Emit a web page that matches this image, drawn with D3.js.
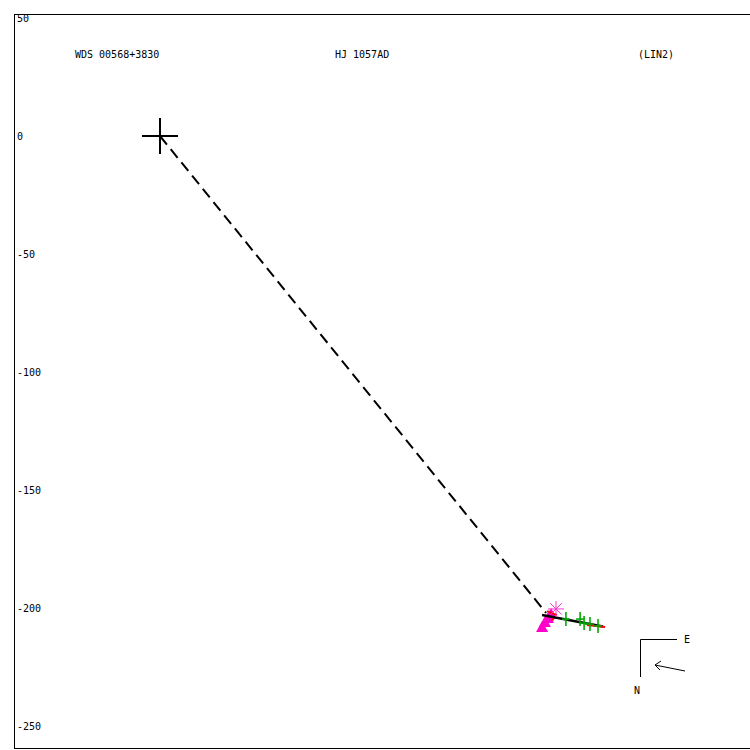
<!DOCTYPE html>
<html><head><meta charset="utf-8">
<script src="https://cdn.jsdelivr.net/npm/d3@7"></script>
<style>body{margin:0;background:#fff}svg{display:block}</style>
</head><body>
<script>
// ---- data ----
const yTicks = [50, 0, -50, -100, -150, -200, -250];
const titles = ["WDS 00568+3830", "HJ 1057AD", "(LIN2)"];
const primary = [0, 0];
const dashedLine = [[0, 0], [163.6, -202.1]];
const fitLine = [[161.9, -203.0], [187.7, -207.8]];
const greenX = [172.0, 178.0, 179.7, 182.2, 185.6];
const greenY = [-204.7, -204.7, -206.4, -206.8, -207.6];
const redSegs = [
  [[164.0, -201.3], [168.2, -203.0]],
  [[180.9, -207.2], [188.6, -208.1]],
  [[166.0, -204.6], [166.8, -205.2]]
];
const asterisk = [167.8, -200.4];
const triX = [161.9, 163.1, 164.4, 165.7];
const triY = [-208.1, -205.9, -204.2, -202.5];

// ---- chart ----
const W = 750, H = 750;
const svg = d3.select("body").append("svg").attr("width", W).attr("height", H);
const x = d3.scaleLinear().domain([0, 250]).range([160, 750]);
const y = d3.scaleLinear().domain([50, -250]).range([18, 726]);
const font = "'DejaVu Sans Mono', monospace";

svg.append("rect").attr("x", 14.5).attr("y", 14.5).attr("width", 740).attr("height", 734)
  .attr("fill", "none").attr("stroke", "#000").attr("stroke-width", 1);

// y tick labels
svg.append("g").selectAll("text").data(yTicks).join("text")
  .attr("x", 17).attr("y", d => y(d)).attr("dy", "0.35em").attr("fill", "#000")
  .attr("font-family", font).attr("font-size", 10).text(d => d);

// titles
const titleX = [75, 335, 638];
svg.append("g").selectAll("text").data(titles).join("text")
  .attr("x", (d, i) => titleX[i]).attr("y", 58).attr("fill", "#000")
  .attr("font-family", font).attr("font-size", 10).text(d => d);

// dashed line
svg.append("line")
  .attr("x1", x(dashedLine[0][0])).attr("y1", y(dashedLine[0][1]))
  .attr("x2", x(dashedLine[1][0])).attr("y2", y(dashedLine[1][1]))
  .attr("stroke", "#000").attr("stroke-width", 2).attr("stroke-dasharray", "11,6");

// primary cross
const px = x(primary[0]), py = y(primary[1]);
svg.append("line").attr("x1", px - 18).attr("x2", px + 18).attr("y1", py).attr("y2", py)
  .attr("stroke", "#000").attr("stroke-width", 2);
svg.append("line").attr("x1", px).attr("x2", px).attr("y1", py - 18).attr("y2", py + 18)
  .attr("stroke", "#000").attr("stroke-width", 2);

// magenta triangles
svg.append("g").selectAll("path").data(triX).join("path")
  .attr("d", (d, i) => {
    const cx = x(d), cy = y(triY[i]);
    return `M${cx - 6},${cy + 5}L${cx + 6},${cy + 5}L${cx},${cy - 6}Z`;
  }).attr("fill", "#ff00cc");

// fit line
svg.append("line")
  .attr("x1", x(fitLine[0][0])).attr("y1", y(fitLine[0][1]))
  .attr("x2", x(fitLine[1][0])).attr("y2", y(fitLine[1][1]))
  .attr("stroke", "#000").attr("stroke-width", 2.5);

// red segments
svg.append("g").selectAll("line").data(redSegs).join("line")
  .attr("x1", d => x(d[0][0])).attr("y1", d => y(d[0][1]))
  .attr("x2", d => x(d[1][0])).attr("y2", d => y(d[1][1]))
  .attr("stroke", "#ff0000").attr("stroke-width", 2);

// green crosses
const gg = svg.append("g").attr("stroke", "#00aa00").attr("stroke-width", 1.6);
greenX.forEach((d, i) => {
  const cx = x(d), cy = y(greenY[i]);
  gg.append("line").attr("x1", cx).attr("x2", cx).attr("y1", cy - 7).attr("y2", cy + 7);
  gg.append("line").attr("x1", cx - 4).attr("x2", cx + 4).attr("y1", cy).attr("y2", cy);
});

// magenta asterisk
const ax = x(asterisk[0]), ay = y(asterisk[1]);
const ag = svg.append("g").attr("stroke", "#ff33cc").attr("stroke-width", 1);
[0, 45, 90, 135].forEach(a => {
  const r = 8, t = a * Math.PI / 180;
  ag.append("line").attr("x1", ax - r * Math.cos(t)).attr("y1", ay - r * Math.sin(t))
    .attr("x2", ax + r * Math.cos(t)).attr("y2", ay + r * Math.sin(t));
});

// compass
const cg = svg.append("g").attr("stroke", "#000").attr("stroke-width", 1).attr("fill", "none");
cg.append("path").attr("d", "M640.5,677V639.5H677");
cg.append("path").attr("d", "M685,671L655,665M655,665L661,661M655,665L660,670");
svg.append("text").attr("x", 684).attr("y", 643).attr("fill", "#000").attr("font-family", font).attr("font-size", 10).text("E");
svg.append("text").attr("x", 634).attr("y", 694).attr("fill", "#000").attr("font-family", font).attr("font-size", 10).text("N");
</script>
</body></html>
